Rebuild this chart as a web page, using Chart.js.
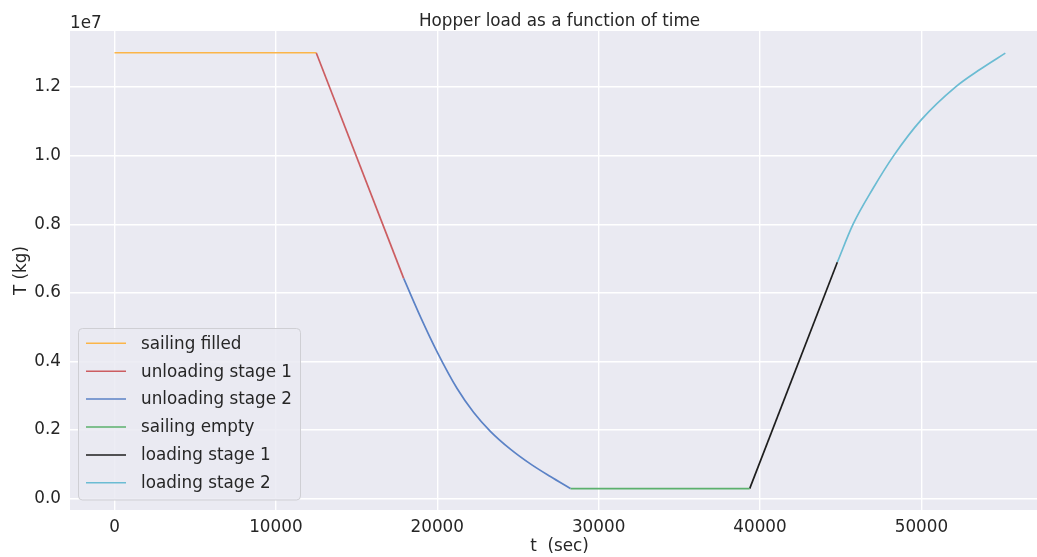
<!DOCTYPE html>
<html>
<head>
<meta charset="utf-8">
<script src="https://cdn.jsdelivr.net/npm/chart.js@4/dist/chart.umd.min.js"></script>
<style>
  html, body { margin: 0; padding: 0; background: #ffffff; overflow: hidden; width: 1037px; height: 557px; }
  #wrap { width: 1050px; height: 557px; }
</style>
</head>
<body>
<div id="wrap"><canvas id="c" width="1050" height="557"></canvas></div>
<script>
// ---- data (t in seconds, load in kg) ----
const sailingFilledT = [0, 12500];
const sailingFilledM = [1.30e7, 1.30e7];

const unloading1T = [12500, 17920];
const unloading1M = [1.30e7, 6.42e6];

const unloading2T = [17920, 18960, 19990, 21230, 22260, 23290, 24530, 25770, 27010, 28250];
const unloading2M = [6.42e6, 5.30e6, 4.28e6, 3.21e6, 2.51e6, 1.96e6, 1.44e6, 1.01e6, 0.64e6, 0.29e6];

const sailingEmptyT = [28250, 39360];
const sailingEmptyM = [0.29e6, 0.29e6];

const loading1T = [39360, 44790];
const loading1M = [0.29e6, 6.89e6];

const loading2T = [44790, 45768, 47000, 48284, 50000, 52106, 53650, 55200];
const loading2M = [6.89e6, 8.00e6, 9.04e6, 10.00e6, 11.05e6, 12.00e6, 12.52e6, 12.99e6];

const seriesLabels = ['sailing filled', 'unloading stage 1', 'unloading stage 2', 'sailing empty', 'loading stage 1', 'loading stage 2'];
const xTicks = [0, 10000, 20000, 30000, 40000, 50000];
const yTicks = [0, 2e6, 4e6, 6e6, 8e6, 10e6, 12e6];

const titleText = 'Hopper load as a function of time';
const xTitle = 't  (sec)';
const yTitle = 'T (kg)';
const offsetText = '1e7';

// ---- build ----
const pts = (t, m) => t.map((v, i) => ({ x: v, y: m[i] }));
const colors = ['#FBB549', '#CC5D61', '#5B82C6', '#5BB06D', '#1e1e1e', '#6BBCD3'];
const seriesData = [
  pts(sailingFilledT, sailingFilledM),
  pts(unloading1T, unloading1M),
  pts(unloading2T, unloading2M),
  pts(sailingEmptyT, sailingEmptyM),
  pts(loading1T, loading1M),
  pts(loading2T, loading2M)
];
const curved = [false, false, true, false, false, true];

const FONT = '"DejaVu Sans", sans-serif';
const FS = 16.8;
const TXT = '#262626';

const bgPlugin = {
  id: 'bg',
  beforeDraw(chart) {
    const { ctx, chartArea: a } = chart;
    ctx.save();
    ctx.fillStyle = '#EAEAF2';
    ctx.fillRect(a.left, a.top, a.right - a.left, a.bottom - a.top);
    ctx.restore();
  }
};

const textPlugin = {
  id: 'texts',
  afterDraw(chart) {
    const { ctx, chartArea: a } = chart;
    const cx = (a.left + a.right) / 2;
    ctx.save();
    ctx.fillStyle = TXT;
    ctx.font = FS + 'px ' + FONT;
    ctx.textAlign = 'center';
    ctx.textBaseline = 'alphabetic';
    ctx.fillText(titleText, cx, 26);
    ctx.textBaseline = 'middle';
    ctx.fillText(xTitle, cx, 547);
    ctx.textAlign = 'left';
    ctx.textBaseline = 'alphabetic';
    ctx.fillText(offsetText, a.left, 28);
    ctx.translate(22, (a.top + a.bottom) / 2);
    ctx.rotate(-Math.PI / 2);
    ctx.textAlign = 'center';
    ctx.textBaseline = 'middle';
    ctx.fillText(yTitle, 0, 0);
    ctx.restore();
  }
};

const legendPlugin = {
  id: 'customLegend',
  afterDatasetsDraw(chart) {
    const { ctx } = chart;
    const x0 = 78.5, y0 = 328.5, w = 222, h = 171.5;
    ctx.save();
    ctx.beginPath();
    ctx.roundRect(x0, y0, w, h, 4);
    ctx.fillStyle = 'rgba(234,234,242,0.85)';
    ctx.fill();
    ctx.strokeStyle = '#CFCFD4';
    ctx.lineWidth = 1;
    ctx.stroke();
    ctx.font = FS + 'px ' + FONT;
    ctx.textAlign = 'left';
    ctx.textBaseline = 'middle';
    chart.data.datasets.forEach((ds, i) => {
      const y = 343.3 + i * 27.9;
      ctx.beginPath();
      ctx.moveTo(86, y);
      ctx.lineTo(126, y);
      ctx.strokeStyle = ds.borderColor;
      ctx.lineWidth = 1.5;
      ctx.stroke();
      ctx.fillStyle = TXT;
      ctx.fillText(ds.label, 141, y + 1);
    });
    ctx.restore();
  }
};

new Chart(document.getElementById('c'), {
  type: 'line',
  data: {
    datasets: seriesData.map((d, i) => ({
      label: seriesLabels[i],
      data: d,
      borderColor: colors[i],
      backgroundColor: colors[i],
      borderWidth: 1.7,
      pointRadius: 0,
      fill: false,
      cubicInterpolationMode: curved[i] ? 'monotone' : 'default',
      tension: 0
    }))
  },
  options: {
    responsive: false,
    animation: false,
    devicePixelRatio: 1,
    layout: { padding: { left: 0, right: 1, top: 31, bottom: 0 } },
    plugins: { legend: { display: false }, title: { display: false }, tooltip: { enabled: false } },
    scales: {
      x: {
        type: 'linear',
        min: -2757,
        max: 57907,
        afterBuildTicks(s) { s.ticks = xTicks.map(v => ({ value: v })); },
        afterFit(s) { s.height = 47; },
        grid: { color: '#ffffff', lineWidth: 1.4, drawTicks: false },
        border: { display: false },
        ticks: { padding: 8, color: TXT, font: { family: FONT, size: FS }, maxRotation: 0, callback: v => String(v) }
      },
      y: {
        type: 'linear',
        min: -3.35e5,
        max: 1.3635e7,
        afterBuildTicks(s) { s.ticks = yTicks.map(v => ({ value: v })); },
        afterFit(s) { s.width = 70; },
        grid: { color: '#ffffff', lineWidth: 1.4, drawTicks: false },
        border: { display: false },
        ticks: { padding: 9, color: TXT, font: { family: FONT, size: FS }, callback: v => (v / 1e7).toFixed(1) }
      }
    }
  },
  plugins: [bgPlugin, textPlugin, legendPlugin]
});
</script>
</body>
</html>
